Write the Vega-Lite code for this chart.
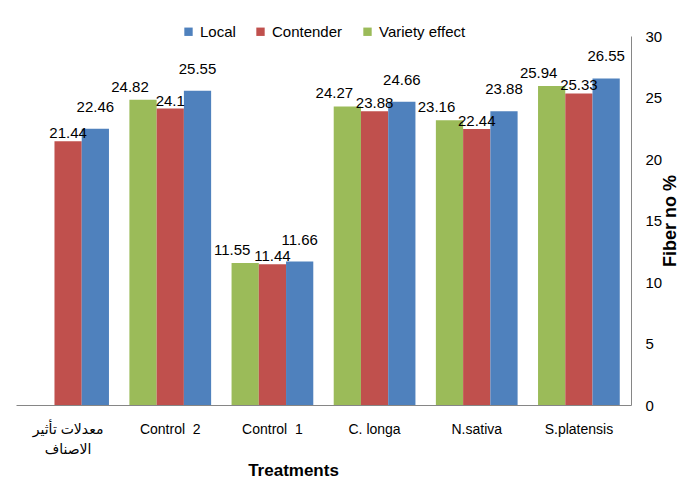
{
  "$schema": "https://vega.github.io/schema/vega-lite/v6.json",
  "autosize": {"type": "none"},
  "width": 615,
  "height": 369,
  "padding": {"left": 16, "top": 36, "right": 50, "bottom": 86},
  "background": "white",
  "data": {
    "values": [
      {"treatment": "معدلات تأثير الاصناف", "series": "Contender", "value": 21.44},
      {"treatment": "معدلات تأثير الاصناف", "series": "Local", "value": 22.46},
      {"treatment": "Control  2", "series": "Variety effect", "value": 24.82},
      {"treatment": "Control  2", "series": "Contender", "value": 24.1},
      {"treatment": "Control  2", "series": "Local", "value": 25.55},
      {"treatment": "Control  1", "series": "Variety effect", "value": 11.55},
      {"treatment": "Control  1", "series": "Contender", "value": 11.44},
      {"treatment": "Control  1", "series": "Local", "value": 11.66},
      {"treatment": "C. longa", "series": "Variety effect", "value": 24.27},
      {"treatment": "C. longa", "series": "Contender", "value": 23.88},
      {"treatment": "C. longa", "series": "Local", "value": 24.66},
      {"treatment": "N.sativa", "series": "Variety effect", "value": 23.16},
      {"treatment": "N.sativa", "series": "Contender", "value": 22.44},
      {"treatment": "N.sativa", "series": "Local", "value": 23.88},
      {"treatment": "S.platensis", "series": "Variety effect", "value": 25.94},
      {"treatment": "S.platensis", "series": "Contender", "value": 25.33},
      {"treatment": "S.platensis", "series": "Local", "value": 26.55}
    ]
  },
  "encoding": {
    "x": {
      "field": "treatment",
      "type": "nominal",
      "sort": ["معدلات تأثير الاصناف", "Control  2", "Control  1", "C. longa", "N.sativa", "S.platensis"],
      "scale": {"paddingInner": 0.2, "paddingOuter": 0.11},
      "axis": {
        "title": "Treatments",
        "titleFont": "Liberation Sans, DejaVu Sans",
        "titleFontSize": 17,
        "titleFontWeight": "bold",
        "titleColor": "#000000",
        "titleX": 277,
        "titleY": 57,
        "labelAngle": 0,
        "labelFont": "Liberation Sans, DejaVu Sans",
        "labelFontSize": 14,
        "labelColor": "#000000",
        "labelPadding": 17,
        "labelLineHeight": 20,
        "labelExpr": "indexof(datum.label, 'معدلات') >= 0 ? ['معدلات تأثير', 'الاصناف'] : replace(datum.label, '  ', '\u00a0 ')",
        "ticks": false,
        "domainColor": "#868686",
        "domainWidth": 1
      }
    },
    "xOffset": {
      "field": "series",
      "type": "nominal",
      "sort": ["Variety effect", "Contender", "Local"],
      "scale": {"domain": ["Variety effect", "Contender", "Local"], "paddingInner": 0, "paddingOuter": 0}
    },
    "y": {
      "field": "value",
      "type": "quantitative",
      "scale": {"domain": [0, 30], "nice": false},
      "axis": {
        "orient": "right",
        "values": [0, 5, 10, 15, 20, 25, 30],
        "grid": false,
        "ticks": false,
        "domainColor": "#868686",
        "domainWidth": 1,
        "labelFont": "Liberation Sans, DejaVu Sans",
        "labelFontSize": 15,
        "labelColor": "#000000",
        "labelPadding": 14,
        "title": "Fiber no %",
        "titleAngle": 270,
        "titleFont": "Liberation Sans, DejaVu Sans",
        "titleFontSize": 18,
        "titleFontWeight": "bold",
        "titleColor": "#000000",
        "titlePadding": 18
      }
    }
  },
  "layer": [
    {
      "mark": {"type": "bar"},
      "encoding": {
        "color": {
          "field": "series",
          "type": "nominal",
          "scale": {
            "domain": ["Local", "Contender", "Variety effect"],
            "range": ["#4F81BD", "#C0504D", "#9BBB59"]
          },
          "legend": {
            "title": null,
            "orient": "none",
            "direction": "horizontal",
            "legendX": 165,
            "legendY": -12,
            "symbolType": "square",
            "symbolSize": 70,
            "symbolStrokeWidth": 0,
            "labelFont": "Liberation Sans, DejaVu Sans",
            "labelFontSize": 15,
            "labelColor": "#000000",
            "labelOffset": 4,
            "columnPadding": 17
          }
        }
      }
    },
    {
      "transform": [{"filter": "datum.series == 'Variety effect'"}],
      "mark": {
        "type": "text",
        "baseline": "middle",
        "dx": -13,
        "dy": -13,
        "font": "Liberation Sans, DejaVu Sans",
        "fontSize": 15,
        "color": "#000000"
      },
      "encoding": {
        "text": {"field": "value", "type": "quantitative"}
      }
    },
    {
      "transform": [{"filter": "datum.series == 'Contender'"}],
      "mark": {
        "type": "text",
        "baseline": "middle",
        "dy": -8,
        "font": "Liberation Sans, DejaVu Sans",
        "fontSize": 15,
        "color": "#000000"
      },
      "encoding": {
        "text": {"field": "value", "type": "quantitative"}
      }
    },
    {
      "transform": [{"filter": "datum.series == 'Local'"}],
      "mark": {
        "type": "text",
        "baseline": "middle",
        "dy": -22,
        "font": "Liberation Sans, DejaVu Sans",
        "fontSize": 15,
        "color": "#000000"
      },
      "encoding": {
        "text": {"field": "value", "type": "quantitative"}
      }
    }
  ],
  "config": {
    "view": {"stroke": null}
  }
}
